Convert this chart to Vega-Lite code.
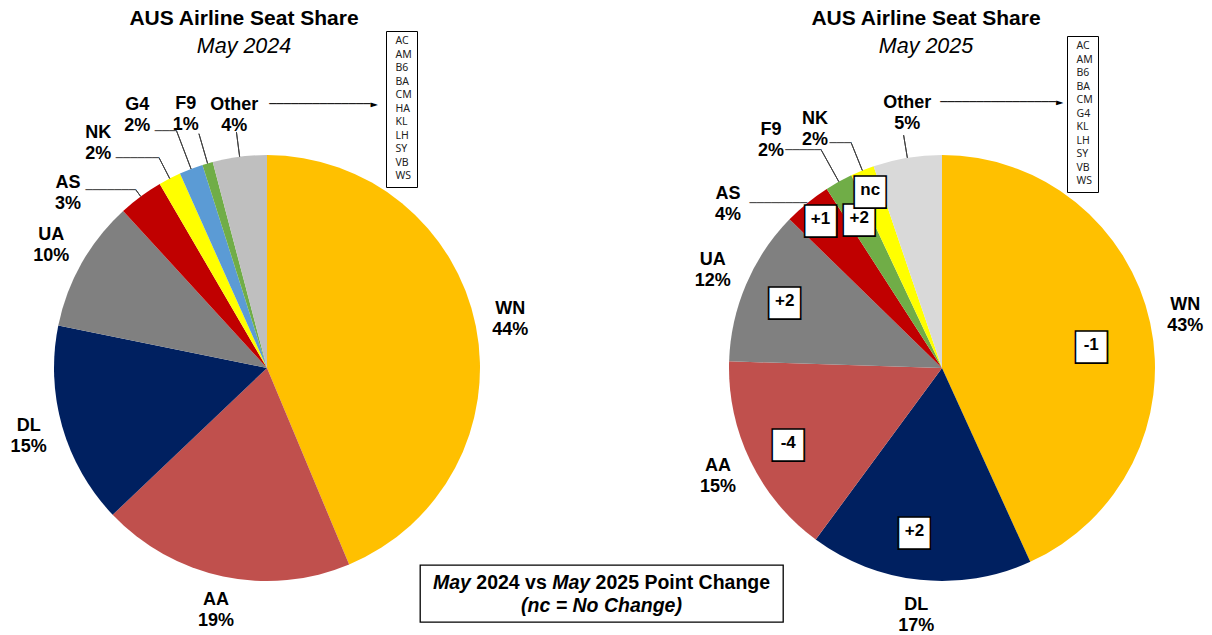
{
  "$schema": "https://vega.github.io/schema/vega-lite/v6.json",
  "background": "white",
  "padding": {"left": 0, "top": 8, "right": 0, "bottom": 0},
  "autosize": {"type": "pad"},
  "bounds": "flush",
  "spacing": 394,
  "config": {
    "view": {"stroke": null},
    "font": "Liberation Sans",
    "text": {"font": "Liberation Sans", "fontSize": 18, "fontWeight": "bold", "lineBreak": "\n", "lineHeight": 21, "color": "black", "align": "center", "baseline": "middle"},
    "title": {"font": "Liberation Sans", "fontSize": 21, "fontWeight": "bold", "color": "black", "subtitleFont": "Liberation Sans", "subtitleFontSize": 21.5, "subtitleFontStyle": "italic", "subtitleColor": "black", "subtitlePadding": 7, "anchor": "middle", "frame": "group"}
  },
  "resolve": {"scale": {"color": "independent", "shape": "independent"}, "legend": {"color": "independent", "shape": "independent"}},
  "vconcat": [
    {
      "hconcat": [
        {
          "width": 534,
          "height": 394,
          "title": {"text": "AUS Airline Seat Share", "subtitle": "May 2024", "offset": -27, "dx": -23},
          "layer": [
            {
              "data": {"values": [
                {"carrier": "WN", "share": 43.7, "label": "WN\n44%"},
                {"carrier": "AA", "share": 19.2, "label": "AA\n19%"},
                {"carrier": "DL", "share": 15.3, "label": "DL\n15%"},
                {"carrier": "UA", "share": 10.0, "label": "UA\n10%"},
                {"carrier": "AS", "share": 3.4, "label": "AS\n3%"},
                {"carrier": "NK", "share": 1.7, "label": "NK\n2%"},
                {"carrier": "G4", "share": 1.8, "label": "G4\n2%"},
                {"carrier": "F9", "share": 0.8, "label": "F9\n1%"},
                {"carrier": "Other", "share": 4.1, "label": "Other\n4%"}
              ]},
              "transform": [{"window": [{"op": "row_number", "as": "idx"}]}],
              "encoding": {
                "theta": {"field": "share", "type": "quantitative", "stack": true},
                "order": {"field": "idx", "type": "quantitative"},
                "detail": {"field": "carrier", "type": "nominal"}
              },
              "layer": [
                {"mark": {"type": "arc", "outerRadius": 213},
                 "encoding": {"color": {"field": "carrier", "type": "nominal", "legend": null,
                   "scale": {"domain": ["WN", "AA", "DL", "UA", "AS", "NK", "G4", "F9", "Other"],
                             "range": ["#FFC000", "#C0504D", "#002060", "#808080", "#C00000", "#FFFF00", "#5B9BD5", "#70AD47", "#BFBFBF"]}}}},
                {"mark": {"type": "arc", "filled": false, "stroke": "#404040", "strokeWidth": 1, "innerRadius": 213, "outerRadius": 221, "padAngle": 3},
                 "encoding": {"strokeOpacity": {"condition": {"test": "datum.carrier === 'AS'", "value": 1}, "value": 0}}},
                {"mark": {"type": "arc", "filled": false, "stroke": "#404040", "strokeWidth": 1, "innerRadius": 213, "outerRadius": 236, "padAngle": 3},
                 "encoding": {"strokeOpacity": {"condition": {"test": "datum.carrier === 'NK'", "value": 1}, "value": 0}}},
                {"mark": {"type": "arc", "filled": false, "stroke": "#404040", "strokeWidth": 1, "innerRadius": 213, "outerRadius": 254, "padAngle": 3},
                 "encoding": {"strokeOpacity": {"condition": {"test": "datum.carrier === 'G4'", "value": 1}, "value": 0}}},
                {"mark": {"type": "arc", "filled": false, "stroke": "#404040", "strokeWidth": 1, "innerRadius": 213, "outerRadius": 244, "padAngle": 3},
                 "encoding": {"strokeOpacity": {"condition": {"test": "datum.carrier === 'F9'", "value": 1}, "value": 0}}},
                {"mark": {"type": "arc", "filled": false, "stroke": "#404040", "strokeWidth": 1, "innerRadius": 213, "outerRadius": 238, "padAngle": 3},
                 "encoding": {"strokeOpacity": {"condition": {"test": "datum.carrier === 'Other'", "value": 1}, "value": 0}}},
                {"mark": {"type": "text", "radius": 221, "font": "DejaVu Sans Mono", "fontSize": 12, "fontWeight": "normal", "color": "#404040", "align": "right"},
                 "encoding": {"text": {"condition": {"test": "datum.carrier === 'AS'", "value": "───────"}, "value": ""}}},
                {"mark": {"type": "text", "radius": 236, "font": "DejaVu Sans Mono", "fontSize": 12, "fontWeight": "normal", "color": "#404040", "align": "right"},
                 "encoding": {"text": {"condition": {"test": "datum.carrier === 'NK'", "value": "──────"}, "value": ""}}},
                {"mark": {"type": "text", "radius": 254, "font": "DejaVu Sans Mono", "fontSize": 12, "fontWeight": "normal", "color": "#404040", "align": "right"},
                 "encoding": {"text": {"condition": {"test": "datum.carrier === 'G4'", "value": "───"}, "value": ""}}},
                {"mark": {"type": "text", "radius": 248, "dy": -10.5},
                 "encoding": {"text": {"condition": {"test": "indexof(['WN','AA','DL','UA'], datum.carrier) >= 0", "field": "label", "type": "nominal"}, "value": ""}}},
                {"mark": {"type": "text", "radius": 265, "thetaOffset": -0.2154, "dy": -10.5},
                 "encoding": {"text": {"condition": {"test": "datum.carrier === 'AS'", "field": "label", "type": "nominal"}, "value": ""}}},
                {"mark": {"type": "text", "radius": 281, "thetaOffset": -0.1696, "dy": -10.5},
                 "encoding": {"text": {"condition": {"test": "datum.carrier === 'NK'", "field": "label", "type": "nominal"}, "value": ""}}},
                {"mark": {"type": "text", "radius": 284, "thetaOffset": -0.110, "dy": -10.5},
                 "encoding": {"text": {"condition": {"test": "datum.carrier === 'G4'", "field": "label", "type": "nominal"}, "value": ""}}},
                {"mark": {"type": "text", "radius": 266, "thetaOffset": -0.028, "dy": -10.5},
                 "encoding": {"text": {"condition": {"test": "datum.carrier === 'F9'", "field": "label", "type": "nominal"}, "value": ""}}},
                {"mark": {"type": "text", "radius": 255, "thetaOffset": 0, "dy": -10.5},
                 "encoding": {"text": {"condition": {"test": "datum.carrier === 'Other'", "field": "label", "type": "nominal"}, "value": ""}}},
                {"mark": {"type": "text", "radius": 255, "thetaOffset": 0, "font": "DejaVu Sans Mono", "fontSize": 12, "fontWeight": "normal", "align": "left", "dx": 35, "dy": -11},
                 "encoding": {"text": {"condition": {"test": "datum.carrier === 'Other'", "value": "──────────────►"}, "value": ""}}}
              ]
            },
            {
              "data": {"values": [{"code": "AC"}, {"code": "AM"}, {"code": "B6"}, {"code": "BA"}, {"code": "CM"}, {"code": "HA"}, {"code": "KL"}, {"code": "LH"}, {"code": "SY"}, {"code": "VB"}, {"code": "WS"}]},
              "mark": {"type": "point", "opacity": 0},
              "encoding": {"shape": {"field": "code", "type": "nominal",
                "legend": {"title": null, "orient": "none", "legendX": 386, "legendY": -140, "strokeColor": "black", "fillColor": "white", "padding": 5, "labelFontSize": 10.5, "labelFont": "Noto Sans", "labelColor": "#222222", "symbolSize": 0, "symbolOpacity": 0, "symbolStrokeWidth": 0, "labelOffset": -6, "rowPadding": 2.5}}}
            }
          ]
        },
        {
          "width": 540,
          "height": 394,
          "title": {"text": "AUS Airline Seat Share", "subtitle": "May 2025", "offset": -22, "dx": -16},
          "layer": [
            {
              "data": {"values": [
                {"carrier": "WN", "share": 43.2, "label": "WN\n43%", "change": "-1"},
                {"carrier": "DL", "share": 16.9, "label": "DL\n17%", "change": "+2"},
                {"carrier": "AA", "share": 15.4, "label": "AA\n15%", "change": "-4"},
                {"carrier": "UA", "share": 11.8, "label": "UA\n12%", "change": "+2"},
                {"carrier": "AS", "share": 3.6, "label": "AS\n4%", "change": "+1"},
                {"carrier": "F9", "share": 2.1, "label": "F9\n2%", "change": "+2"},
                {"carrier": "NK", "share": 1.8, "label": "NK\n2%", "change": "nc"},
                {"carrier": "Other", "share": 5.2, "label": "Other\n5%", "change": ""}
              ]},
              "transform": [{"window": [{"op": "row_number", "as": "idx"}]}],
              "encoding": {
                "theta": {"field": "share", "type": "quantitative", "stack": true},
                "order": {"field": "idx", "type": "quantitative"},
                "detail": {"field": "carrier", "type": "nominal"}
              },
              "layer": [
                {"mark": {"type": "arc", "outerRadius": 213},
                 "encoding": {"color": {"field": "carrier", "type": "nominal", "legend": null,
                   "scale": {"domain": ["WN", "DL", "AA", "UA", "AS", "F9", "NK", "Other"],
                             "range": ["#FFC000", "#002060", "#C0504D", "#808080", "#C00000", "#70AD47", "#FFFF00", "#D9D9D9"]}}}},
                {"mark": {"type": "arc", "filled": false, "stroke": "#404040", "strokeWidth": 1, "innerRadius": 213, "outerRadius": 249, "padAngle": 3},
                 "encoding": {"strokeOpacity": {"condition": {"test": "datum.carrier === 'F9'", "value": 1}, "value": 0}}},
                {"mark": {"type": "arc", "filled": false, "stroke": "#404040", "strokeWidth": 1, "innerRadius": 213, "outerRadius": 243, "padAngle": 3},
                 "encoding": {"strokeOpacity": {"condition": {"test": "datum.carrier === 'NK'", "value": 1}, "value": 0}}},
                {"mark": {"type": "arc", "filled": false, "stroke": "#404040", "strokeWidth": 1, "innerRadius": 213, "outerRadius": 236, "padAngle": 3},
                 "encoding": {"strokeOpacity": {"condition": {"test": "datum.carrier === 'Other'", "value": 1}, "value": 0}}},
                {"mark": {"type": "text", "radius": 213, "font": "DejaVu Sans Mono", "fontSize": 12, "fontWeight": "normal", "color": "#404040", "align": "right"},
                 "encoding": {"text": {"condition": {"test": "datum.carrier === 'AS'", "value": "────────"}, "value": ""}}},
                {"mark": {"type": "text", "radius": 249, "font": "DejaVu Sans Mono", "fontSize": 12, "fontWeight": "normal", "color": "#404040", "align": "right"},
                 "encoding": {"text": {"condition": {"test": "datum.carrier === 'F9'", "value": "─────"}, "value": ""}}},
                {"mark": {"type": "text", "radius": 243, "font": "DejaVu Sans Mono", "fontSize": 12, "fontWeight": "normal", "color": "#404040", "align": "right"},
                 "encoding": {"text": {"condition": {"test": "datum.carrier === 'NK'", "value": "───"}, "value": ""}}},
                {"mark": {"type": "text", "radius": 249, "dy": -10.5},
                 "encoding": {"text": {"condition": {"test": "indexof(['WN','AA','DL','UA'], datum.carrier) >= 0", "field": "label", "type": "nominal"}, "value": ""}}},
                {"mark": {"type": "text", "radius": 269, "thetaOffset": -0.2349, "dy": -10.5},
                 "encoding": {"text": {"condition": {"test": "datum.carrier === 'AS'", "field": "label", "type": "nominal"}, "value": ""}}},
                {"mark": {"type": "text", "radius": 285, "thetaOffset": -0.1379, "dy": -10.5},
                 "encoding": {"text": {"condition": {"test": "datum.carrier === 'F9'", "field": "label", "type": "nominal"}, "value": ""}}},
                {"mark": {"type": "text", "radius": 270, "thetaOffset": -0.1065, "dy": -10.5},
                 "encoding": {"text": {"condition": {"test": "datum.carrier === 'NK'", "field": "label", "type": "nominal"}, "value": ""}}},
                {"mark": {"type": "text", "radius": 257, "thetaOffset": 0.028, "dy": -10.5},
                 "encoding": {"text": {"condition": {"test": "datum.carrier === 'Other'", "field": "label", "type": "nominal"}, "value": ""}}},
                {"mark": {"type": "text", "radius": 257, "thetaOffset": 0.028, "font": "DejaVu Sans Mono", "fontSize": 12, "fontWeight": "normal", "align": "left", "dx": 33, "dy": -11},
                 "encoding": {"text": {"condition": {"test": "datum.carrier === 'Other'", "value": "────────────────►"}, "value": ""}}},
                {"mark": {"type": "text", "radius": 151, "thetaOffset": 0.06, "font": "DejaVu Sans", "fontSize": 42, "fontWeight": "normal", "color": "white", "stroke": "black", "strokeWidth": 1.6},
                 "encoding": {"text": {"condition": {"test": "datum.carrier === 'WN'", "value": "■"}, "value": ""}}},
                {"mark": {"type": "text", "radius": 151, "thetaOffset": 0.06, "fontSize": 17},
                 "encoding": {"text": {"condition": {"test": "datum.carrier === 'WN'", "field": "change", "type": "nominal"}, "value": ""}}},
                {"mark": {"type": "text", "radius": 165, "thetaOffset": 0.064, "font": "DejaVu Sans", "fontSize": 42, "fontWeight": "normal", "color": "white", "stroke": "black", "strokeWidth": 1.6},
                 "encoding": {"text": {"condition": {"test": "datum.carrier === 'DL'", "value": "■"}, "value": ""}}},
                {"mark": {"type": "text", "radius": 165, "thetaOffset": 0.064, "fontSize": 17},
                 "encoding": {"text": {"condition": {"test": "datum.carrier === 'DL'", "field": "change", "type": "nominal"}, "value": ""}}},
                {"mark": {"type": "text", "radius": 171, "font": "DejaVu Sans", "fontSize": 42, "fontWeight": "normal", "color": "white", "stroke": "black", "strokeWidth": 1.6},
                 "encoding": {"text": {"condition": {"test": "indexof(['AA','UA','F9'], datum.carrier) >= 0", "value": "■"}, "value": ""}}},
                {"mark": {"type": "text", "radius": 171, "fontSize": 17},
                 "encoding": {"text": {"condition": {"test": "indexof(['AA','UA','F9'], datum.carrier) >= 0", "field": "change", "type": "nominal"}, "value": ""}}},
                {"mark": {"type": "text", "radius": 192, "font": "DejaVu Sans", "fontSize": 42, "fontWeight": "normal", "color": "white", "stroke": "black", "strokeWidth": 1.6},
                 "encoding": {"text": {"condition": {"test": "indexof(['AS','NK'], datum.carrier) >= 0", "value": "■"}, "value": ""}}},
                {"mark": {"type": "text", "radius": 192, "fontSize": 17},
                 "encoding": {"text": {"condition": {"test": "indexof(['AS','NK'], datum.carrier) >= 0", "field": "change", "type": "nominal"}, "value": ""}}}
              ]
            },
            {
              "data": {"values": [{"code": "AC"}, {"code": "AM"}, {"code": "B6"}, {"code": "BA"}, {"code": "CM"}, {"code": "G4"}, {"code": "KL"}, {"code": "LH"}, {"code": "SY"}, {"code": "VB"}, {"code": "WS"}]},
              "mark": {"type": "point", "opacity": 0},
              "encoding": {"shape": {"field": "code", "type": "nominal",
                "legend": {"title": null, "orient": "none", "legendX": 395, "legendY": -135, "strokeColor": "black", "fillColor": "white", "padding": 5, "labelFontSize": 10.5, "labelFont": "Noto Sans", "labelColor": "#222222", "symbolSize": 0, "symbolOpacity": 0, "symbolStrokeWidth": 0, "labelOffset": -6, "rowPadding": 2.5}}}
            }
          ]
        }
      ],
      "spacing": 138,
      "bounds": "flush",
      "resolve": {"scale": {"color": "independent", "shape": "independent"}, "legend": {"color": "independent", "shape": "independent"}}
    },
    {
      "hconcat": [
        {"width": 420, "height": 57, "data": {"values": [{}]}, "mark": {"type": "text", "text": ""}},
        {
          "width": 363,
          "height": 57,
          "view": {"stroke": "black", "strokeWidth": 1.3, "fill": "white"},
          "data": {"values": [{}]},
          "layer": [
            {"mark": {"type": "text", "text": "May", "fontStyle": "italic", "fontSize": 19.5, "align": "left", "dx": -168.5, "dy": -10.5}},
            {"mark": {"type": "text", "text": "2024 vs", "fontSize": 19.5, "align": "left", "dx": -125.2, "dy": -10.5}},
            {"mark": {"type": "text", "text": "May", "fontStyle": "italic", "fontSize": 19.5, "align": "left", "dx": -49.3, "dy": -10.5}},
            {"mark": {"type": "text", "text": "2025 Point Change", "fontSize": 19.5, "align": "left", "dx": -5.9, "dy": -10.5}},
            {"mark": {"type": "text", "text": "(nc = No Change)", "fontStyle": "italic", "fontSize": 19.5, "align": "center", "dy": 12.5}}
          ]
        }
      ],
      "spacing": 0,
      "bounds": "flush"
    }
  ]
}
